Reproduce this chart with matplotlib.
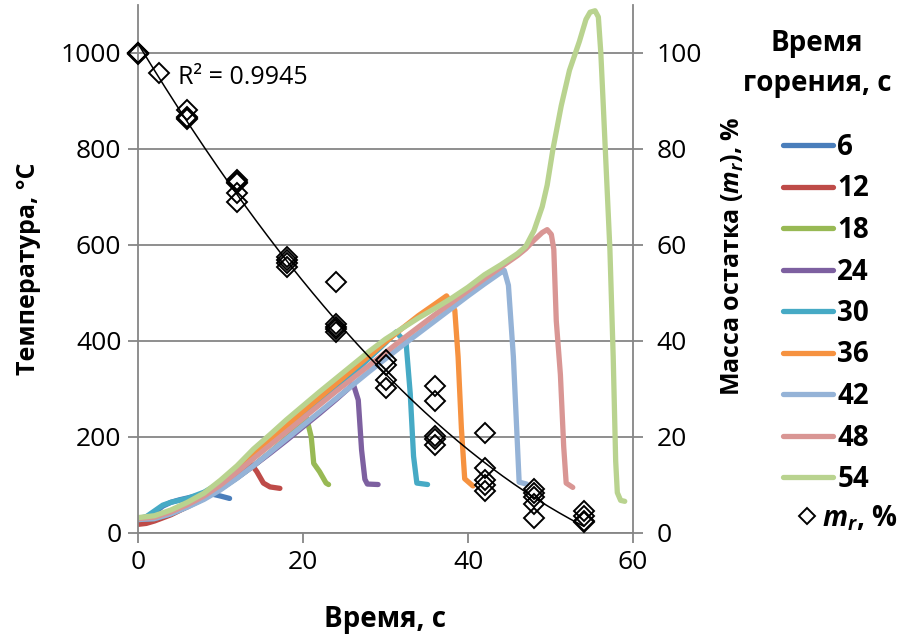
import numpy as np
import matplotlib
matplotlib.use("Agg")
import matplotlib.pyplot as plt

plt.rcParams['font.family'] = ['Open Sans', 'DejaVu Sans']
plt.rcParams['mathtext.fontset'] = 'custom'
plt.rcParams['mathtext.it'] = 'Open Sans:italic'
plt.rcParams['mathtext.rm'] = 'Open Sans'
plt.rcParams['mathtext.bfit'] = 'Open Sans:italic:bold'

# temperature curves: burning time -> (time, temperature)
t6 = [0, 1, 2, 3, 4, 5, 6, 7, 8, 9, 10, 11.1]
T6 = [30, 33, 42, 56, 64, 69, 73, 77, 80, 81, 77, 72]

t12 = [0, 1, 2, 4, 6, 8, 10, 12, 13, 13.8, 14.4, 15.2, 16, 17.2]
T12 = [18, 20, 25, 38, 55, 73, 96, 120, 133, 142, 128, 104, 96, 93]

t18 = [0, 2, 4, 6, 8, 10, 12, 14, 16, 18, 20, 20.4, 21, 21.3, 22, 22.8, 23.1]
T18 = [28, 30, 40, 55, 72, 92, 115, 140, 168, 198, 232, 242, 200, 145, 128, 104, 101]

t24 = [0, 2, 4, 6, 8, 10, 12, 14, 16, 18, 20, 22, 24, 26.1, 26.7, 27.1, 27.5, 27.8, 29.1]
T24 = [28, 30, 40, 55, 72, 92, 115, 140, 166, 193, 221, 249, 278, 310, 277, 173, 112, 102, 101]

t30 = [0, 1, 2, 3, 4, 5, 6, 8, 10, 12, 14, 16, 18, 20, 22, 24, 26, 28, 30, 31.3,
       32.5, 33.0, 33.4, 33.8, 35.1]
T30 = [30, 34, 46, 58, 64, 68, 72, 85, 105, 130, 160, 190, 218, 246, 274, 302, 332, 364, 396, 419,
       395, 290, 160, 104, 101]

t36 = [0, 2, 4, 6, 8, 10, 12, 14, 16, 18, 20, 22, 24, 26, 28, 30, 32, 34, 36, 37.4,
       38.4, 38.8, 39.2, 39.6, 40.6]
T36 = [30, 34, 46, 62, 80, 104, 132, 163, 193, 223, 253, 282, 311, 340, 369, 398, 426, 453, 477, 494,
       464, 367, 218, 113, 98]

t42 = [0, 2, 4, 6, 8, 10, 12, 14, 16, 18, 20, 22, 24, 26, 28, 30, 32, 34, 36, 38, 40, 42, 44, 44.4,
       44.9, 45.5, 45.9, 46.2, 47.1]
T42 = [28, 30, 40, 54, 70, 90, 114, 140, 168, 196, 224, 252, 280, 308, 336, 363, 390, 416, 442, 468,
       494, 519, 543, 547, 516, 367, 218, 106, 102]

t48 = [0, 2, 4, 6, 8, 10, 12, 14, 16, 18, 20, 22, 24, 26, 28, 30, 32, 34, 36, 38, 40, 42, 44, 46,
       47, 48, 49, 49.6, 50.1, 50.4, 50.7, 51.2, 51.6, 51.9, 52.7]
T48 = [30, 33, 44, 59, 77, 100, 127, 155, 183, 211, 239, 267, 295, 322, 349, 376, 403, 429, 455,
       480, 505, 530, 554, 578, 592, 610, 626, 632, 622, 591, 442, 330, 180, 104, 95]

t54 = [0, 2, 4, 6, 8, 10, 12, 14, 16, 18, 20, 22, 24, 26, 28, 30, 32, 34, 36, 38, 40, 42, 44, 46,
       47, 48, 49, 49.6, 50.3, 51.3, 52.3, 53.5, 54.3, 54.8, 55.4, 55.8, 56.1, 56.4, 56.8, 57.2,
       57.6, 57.9, 58.1, 58.5, 59.0]
T54 = [32, 36, 48, 64, 83, 110, 140, 175, 205, 236, 265, 294, 322, 350, 378, 404, 426, 448, 468,
       489, 512, 538, 559, 582, 597, 630, 680, 725, 800, 890, 964, 1024, 1070, 1085, 1088, 1075,
       1000, 890, 740, 591, 367, 150, 84, 68, 66]

burn_labels = ['6', '12', '18', '24', '30', '36', '42', '48', '54']
burn_t = [t6, t12, t18, t24, t30, t36, t42, t48, t54]
burn_T = [T6, T12, T18, T24, T30, T36, T42, T48, T54]
colors = ['#4A7EBB', '#BE4B48', '#98B954', '#7D60A0', '#46AAC5', '#F69240',
          '#95B3D7', '#D99694', '#B9D38F']

# residual mass, %
mr_t = [0, 0, 0, 0, 2.5,
        6, 6, 6, 6,
        12, 12, 12, 12, 12,
        18, 18, 18, 18,
        24, 24, 24, 24, 24,
        30, 30, 30, 30,
        36, 36, 36, 36, 36,
        42, 42, 42, 42, 42,
        48, 48, 48, 48, 48,
        54, 54, 54, 54]
mr = [100, 99.9, 99.7, 100, 95.8,
      88.1, 86.7, 86.2, 86.4,
      73.6, 73.2, 72.9, 70.8, 68.9,
      57.4, 56.8, 56.2, 55.5,
      52.3, 43.5, 42.9, 42.4, 41.8,
      36.0, 35.0, 31.8, 30.2,
      30.6, 27.4, 20.3, 19.6, 18.4,
      20.8, 13.6, 11.0, 9.9, 8.7,
      9.1, 8.4, 7.6, 6.1, 3.1,
      4.6, 3.5, 2.6, 2.2]

grey = '#868686'

fig = plt.figure(figsize=(9.03, 6.37), dpi=100)
ax = fig.add_axes([138 / 903, 104 / 637, 495 / 903, 528 / 637])

handles = []
for tt, TT, lab, c in zip(burn_t, burn_T, burn_labels, colors):
    ln, = ax.plot(tt, TT, color=c, lw=3.8, solid_joinstyle='round',
                  solid_capstyle='round', label=lab)
    handles.append(ln)

ax.set_xlim(0, 60)
ax.set_ylim(0, 1100)
ax.set_xticks([0, 20, 40, 60])
ax.set_yticks([0, 200, 400, 600, 800, 1000])
ax.grid(axis='y', color=grey, lw=1.3)
ax.set_axisbelow(True)
for s in ['top', 'right']:
    ax.spines[s].set_visible(False)
for s in ['left', 'bottom']:
    ax.spines[s].set_color(grey)
    ax.spines[s].set_linewidth(1.3)
ax.tick_params(axis='both', colors=grey, width=1.3, length=7, labelsize=19,
               labelcolor='black', pad=5)
ax.set_xlabel('Время, с', fontsize=20, fontweight='bold', labelpad=22)
ax.set_ylabel('Температура, °C', fontsize=18, fontweight='bold', labelpad=14)

ax2 = ax.twinx()
ax2.set_ylim(0, 110)
ax2.set_yticks([0, 20, 40, 60, 80, 100])
for s in ['top', 'left', 'bottom']:
    ax2.spines[s].set_visible(False)
ax2.spines['right'].set_color(grey)
ax2.spines['right'].set_linewidth(1.3)
ax2.tick_params(axis='y', colors=grey, width=1.3, length=7, labelsize=19,
                labelcolor='black', pad=10)
ax2.set_ylabel(r'Масса остатка ($\mathbfit{m_r}$), %', fontsize=18,
               fontweight='bold')
ax2.yaxis.set_label_coords(1.176, 0.525)

sc, = ax2.plot(mr_t, mr, ls='none', marker='D', ms=10, mfc='none', mec='black',
               mew=1.4, clip_on=False)

coef = np.polyfit(mr_t, mr, 2)
tf = np.linspace(0, 54, 200)
ax2.plot(tf, np.polyval(coef, tf), color='black', lw=1.1)
ax2.text(4.8, 95, 'R² = 0.9945', fontsize=18, va='center')

fig.text(817 / 903, 1 - 64 / 637, 'Время\nгорения, с', ha='center', va='center',
         fontsize=20, fontweight='bold', linespacing=1.5)

leg = fig.legend(handles, burn_labels,
                 loc='upper left', bbox_to_anchor=(783 / 903, 1 - 133 / 637),
                 frameon=False, fontsize=20, handlelength=1.8, labelspacing=0.45,
                 handletextpad=0.15, borderaxespad=0, borderpad=0)
for txt in leg.get_texts():
    txt.set_fontweight('bold')

leg2 = fig.legend([sc], [r'$\mathbfit{m_r}$, %'],
                  loc='center left', bbox_to_anchor=(796 / 903, 1 - 518 / 637),
                  frameon=False, fontsize=20, handlelength=0.8, markerscale=0.85,
                  handletextpad=0.15, borderaxespad=0, borderpad=0)
for txt in leg2.get_texts():
    txt.set_fontweight('bold')

fig.savefig('out.png', dpi=100)
